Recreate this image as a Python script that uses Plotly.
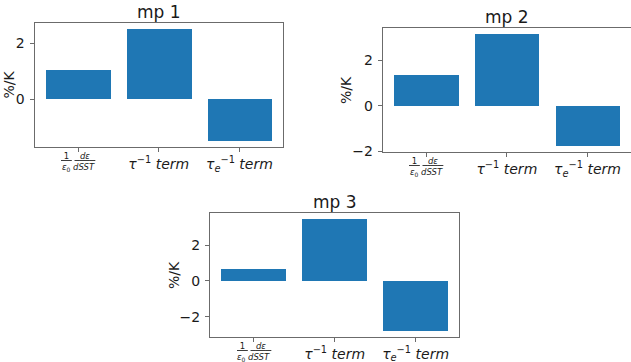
import plotly.graph_objects as go

# Budget terms for each experiment (%/K)
categories = ["dlneps", "tau", "tau_e"]
fraction_top = "<u>&nbsp;1&nbsp;</u>&nbsp;<u>&nbsp;&nbsp;<i>dε</i>&nbsp;&nbsp;</u>"
fraction_bottom = "<i>ε</i><sub>0</sub>&nbsp;<i>dSST</i>"
tick_labels = [
    "",
    "<i>τ</i><sup>−1</sup> <i>term</i>",
    "<i>τ</i><sub><i>e</i></sub><sup>−1</sup> <i>term</i>",
]
mp1_values = [1.04, 2.52, -1.50]
mp2_values = [1.37, 3.17, -1.79]
mp3_values = [0.67, 3.46, -2.81]
panel_titles = ["mp 1", "mp 2", "mp 3"]
y_label = "%/K"

W, H = 631, 362
BAR_COLOR = "#1f77b4"
FRAME = "#6b6b6b"
TEXT = "#1a1a1a"
FONT = "DejaVu Sans"

# Axes boxes in pixels: (left, right, top, bottom)
boxes = [(34.5, 283, 23, 147), (382.7, 631, 28.3, 152.3), (210, 459.3, 213.3, 336.7)]
series = [mp1_values, mp2_values, mp3_values]

fig = go.Figure()
bar_width = 0.8
xpos = list(range(len(categories)))

for i, (vals, box, title) in enumerate(zip(series, boxes, panel_titles), start=1):
    left, right, top, bottom = box
    xd = [left / W, right / W]
    yd = [1 - bottom / H, 1 - top / H]
    sfx = "" if i == 1 else str(i)

    fig.add_trace(go.Bar(
        x=xpos, y=vals, width=bar_width, marker=dict(color=BAR_COLOR, line=dict(width=0)),
        xaxis="x" + sfx, yaxis="y" + sfx, showlegend=False,
    ))

    lo, hi = min(0, min(vals)), max(0, max(vals))
    pad = 0.05 * (hi - lo)
    xlo, xhi = -bar_width / 2, len(vals) - 1 + bar_width / 2
    xpad = 0.05 * (xhi - xlo)

    common = dict(showline=True, linecolor=FRAME, linewidth=1, mirror=True,
                  showgrid=False, zeroline=False, ticks="outside", ticklen=4,
                  tickcolor=FRAME, tickwidth=1, automargin=False)
    fig.update_layout(**{
        "xaxis" + sfx: dict(domain=xd, anchor="y" + sfx, range=[xlo - xpad, xhi + xpad],
                            tickmode="array", tickvals=xpos, ticktext=tick_labels,
                            tickfont=dict(size=14, color=TEXT, family=FONT), **common),
        "yaxis" + sfx: dict(domain=yd, anchor="x" + sfx, range=[lo - pad, hi + pad],
                            dtick=2, tick0=0, ticklabelstandoff=2,
                            tickfont=dict(size=14, color=TEXT, family=FONT), **common),
    })

    # stacked fraction label under the first bar
    for txt, shift in ((fraction_top, -3), (fraction_bottom, -14)):
        fig.add_annotation(text=txt, xref="x" + sfx, yref="y" + sfx + " domain",
                           x=xpos[0], y=0, xanchor="center", yanchor="top", yshift=shift,
                           borderpad=0, showarrow=False,
                           font=dict(size=8.5, color=TEXT, family=FONT))
    fig.add_annotation(text=title, xref="paper", yref="paper",
                       x=(xd[0] + xd[1]) / 2, y=yd[1], xanchor="center", yanchor="bottom",
                       yshift=-1, showarrow=False,
                       font=dict(size=17, color=TEXT, family=FONT))
    fig.add_annotation(text=y_label, xref="paper", yref="paper",
                       x=xd[0], y=(yd[0] + yd[1]) / 2, xanchor="center", yanchor="middle",
                       xshift=-26 if i == 1 else -36, textangle=-90, showarrow=False,
                       font=dict(size=14, color=TEXT, family=FONT))

fig.update_layout(width=W, height=H, margin=dict(l=0, r=0, t=0, b=0),
                  paper_bgcolor="white", plot_bgcolor="white", bargap=0,
                  font=dict(family=FONT))

fig.write_html("out.html")
